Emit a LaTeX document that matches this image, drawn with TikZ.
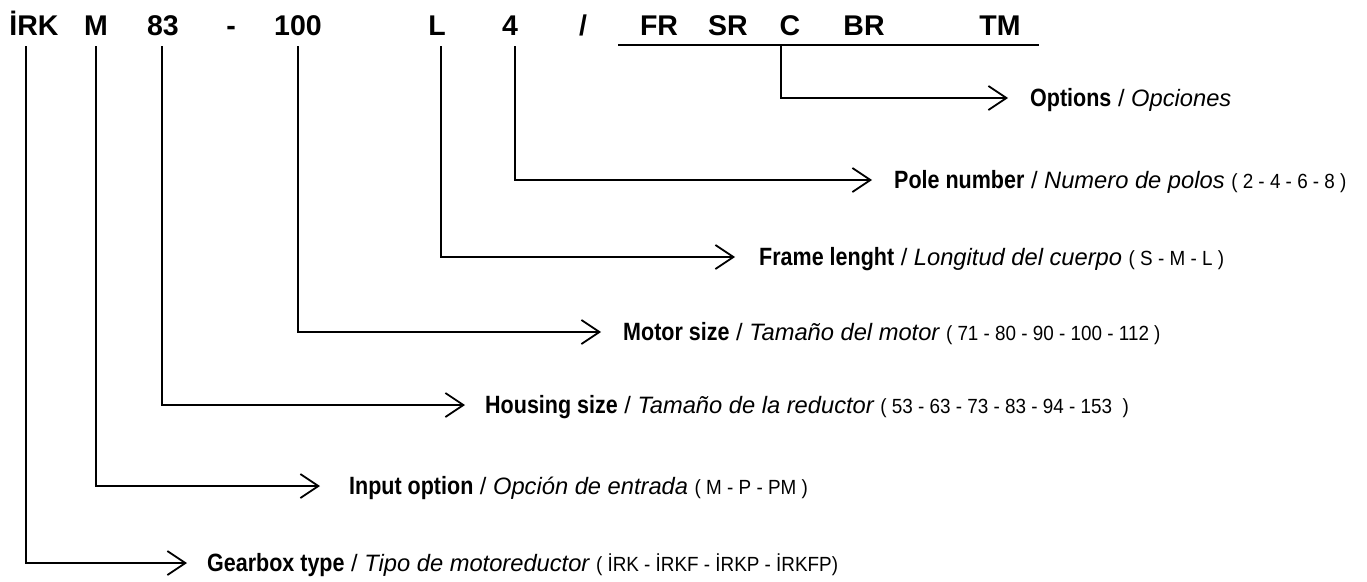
\documentclass[tikz,border=0pt]{standalone}
\usepackage{fontspec}
\setmainfont{Liberation Sans}
\newfontfamily\condsans[FakeStretch=0.86]{Liberation Sans}
\newfontfamily\narrowsans[FakeStretch=0.92]{Liberation Sans}
\usetikzlibrary{arrows.meta}
\newcommand{\lbl}[3]{{\condsans\bfseries\fontsize{25}{28}\selectfont #1}{\fontsize{23.7}{28}\selectfont{} / \itshape #2}\ifx&#3&\else{\fontsize{23.7}{28}\selectfont\ }{\narrowsans\fontsize{20.5}{24}\selectfont #3}\fi}
\begin{document}
\begin{tikzpicture}[x=1pt,y=-1pt,
  code/.style={font=\bfseries\fontsize{28.5}{32}\selectfont, inner sep=0pt, anchor=base},
  desc/.style={inner sep=0pt, anchor=base west},
  conn/.style={line width=1.8pt, -{Straight Barb[length=18pt,width=24pt]}},
  rule/.style={line width=1.8pt}]
\useasboundingbox (0,0) rectangle (1367,581);
% code letters
\node[code] (irk) at (34,35) {İRK};
\node[code] (m) at (96,35) {M};
\node[code] (n83) at (163,35) {83};
\node[code] (dash) at (231,35) {-};
\node[code] (n100) at (298,35) {100};
\node[code] (l) at (437,35) {L};
\node[code] (n4) at (510,35) {4};
\node[code] (slash) at (583,35) {/};
\node[code] (fr) at (659,35) {FR};
\node[code] (sr) at (728,35) {SR};
\node[code] (c) at (790,35) {C};
\node[code] (br) at (864,35) {BR};
\node[code] (tm) at (1000,35) {TM};
\coordinate (ul1) at (618,45);
\coordinate (ul2) at (1039,45);
\draw[rule] (ul1) -- (ul2);
% line starts
\coordinate (s-irk) at (26,46);
\coordinate (s-m) at (96,46);
\coordinate (s-83) at (162,46);
\coordinate (s-100) at (298,46);
\coordinate (s-l) at (441,46);
\coordinate (s-4) at (515,46);
\coordinate (s-c) at (781,45);
% arrow tips
\coordinate (t-opt) at (1008,98);
\coordinate (t-pole) at (872,180);
\coordinate (t-frame) at (735,257);
\coordinate (t-motor) at (601,332);
\coordinate (t-house) at (465,405);
\coordinate (t-input) at (320,486);
\coordinate (t-gear) at (187,563);
% descriptions
\node[desc] (opt) at (1030,106.5) {\lbl{Options}{Opciones}{}};
\node[desc] (pole) at (894,188.5) {\lbl{Pole number}{Numero de polos}{( 2 - 4 - 6 - 8 )}};
\node[desc] (frame) at (759,265.5) {\lbl{Frame lenght}{Longitud del cuerpo}{( S - M - L )}};
\node[desc] (motor) at (623,340.5) {\lbl{Motor size}{Tamaño del motor}{( 71 - 80 - 90 - 100 - 112 )}};
\node[desc] (house) at (485,413.5) {\lbl{Housing size}{Tamaño de la reductor}{( 53 - 63 - 73 - 83 - 94 - 153 \ )}};
\node[desc] (input) at (349,494.5) {\lbl{Input option}{Opción de entrada}{( M - P - PM )}};
\node[desc] (gear) at (207,571.5) {\lbl{Gearbox type}{Tipo de motoreductor}{( İRK - İRKF - İRKP - İRKFP)}};
% connectors
\draw[conn] (s-c) |- (t-opt);
\draw[conn] (s-4) |- (t-pole);
\draw[conn] (s-l) |- (t-frame);
\draw[conn] (s-100) |- (t-motor);
\draw[conn] (s-83) |- (t-house);
\draw[conn] (s-m) |- (t-input);
\draw[conn] (s-irk) |- (t-gear);
\end{tikzpicture}
\end{document}
